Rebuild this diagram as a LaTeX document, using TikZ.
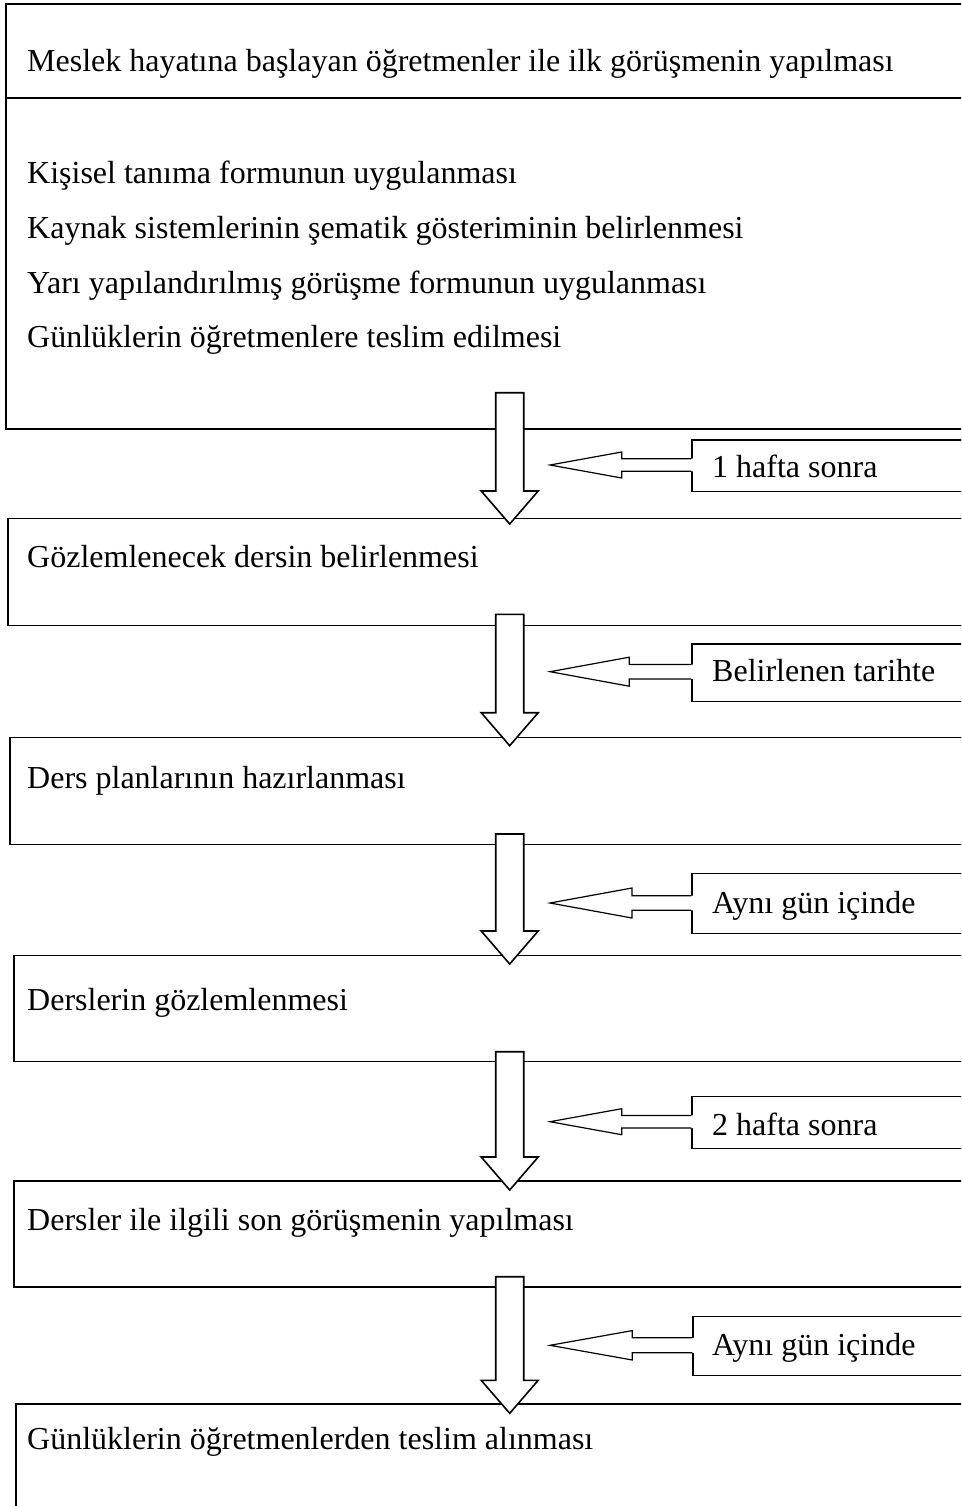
\documentclass[tikz,border=0pt]{standalone}
\usepackage{fontspec}
\setmainfont{Liberation Serif}
\usetikzlibrary{calc}
\tikzset{
  stagebox/.style={draw, line width=1.6pt, rectangle, anchor=north west, inner sep=0pt, minimum width=1100pt},
  stagetext/.style={anchor=base west, inner sep=0pt, font=\fontsize{32}{38}\selectfont},
  labelbox/.style={draw, line width=1.2pt, rectangle, anchor=north west, inner sep=0pt, minimum width=400pt},
  labeltext/.style={anchor=base west, inner sep=0pt, font=\fontsize{32}{38}\selectfont},
  bigarrowstyle/.style={draw, line width=1.6pt, fill=white, line join=miter},
  smallarrowstyle/.style={draw, line width=1.2pt, line join=miter}
}
% #1 start coordinate, #2 tip coordinate
\newcommand{\drawbigarrow}[2]{%
  \path[bigarrowstyle] ($(#1)+(-14,0)$) -- ($(#1)+(14,0)$) -- ($(#2)+(14,-33)$) -- ($(#2)+(28.5,-33)$) -- (#2) -- ($(#2)+(-28.5,-33)$) -- ($(#2)+(-14,-33)$) -- cycle;}
% #1 label node, #2 tip coordinate, #3 head length, #4 head half height, #5 shaft half height
\newcommand{\drawsmallarrow}[5]{%
  \fill[white] ($(#2)$) -- ($(#2)+(#3,-#4)$) -- ($(#2)+(#3,-#5)$) -- ($(#1.north west|-#2)+(1.5,-#5)$) -- ($(#1.north west|-#2)+(1.5,#5)$) -- ($(#2)+(#3,#5)$) -- ($(#2)+(#3,#4)$) -- cycle;
  \draw[smallarrowstyle] ($(#1.north west|-#2)+(0,-#5)$) -- ($(#2)+(#3,-#5)$) -- ($(#2)+(#3,-#4)$) -- (#2) -- ($(#2)+(#3,#4)$) -- ($(#2)+(#3,#5)$) -- ($(#1.north west|-#2)+(0,#5)$);}
\begin{document}
\begin{tikzpicture}[x=1pt,y=-1pt]
\clip (0,0) rectangle (961,1506);
\fill[white] (0,0) rectangle (961,1506);

% stage boxes
\node[stagebox, minimum height=425pt] (b1) at (5,3) {};
\draw[line width=2pt] (b1.west|-0,98.5) coordinate (sepl) -- (sepl-|b1.east);
\node[stagebox, minimum height=107pt] (b2) at (7,517.5) {};
\node[stagebox, minimum height=107pt] (b3) at (9,736.7) {};
\node[stagebox, minimum height=106pt] (b4) at (13,954.7) {};
\node[stagebox, minimum height=106pt] (b5) at (13,1180) {};
\node[stagebox, minimum height=300pt] (b6) at (15,1403.3) {};

% texts
\node[stagetext] (t1) at (27,72) {Meslek hayatına başlayan öğretmenler ile ilk görüşmenin yapılması};
\node[stagetext] (t1a) at (27,184) {Kişisel tanıma formunun uygulanması};
\node[stagetext] (t1b) at (27,238.5) {Kaynak sistemlerinin şematik gösteriminin belirlenmesi};
\node[stagetext] (t1c) at (27,293) {Yarı yapılandırılmış görüşme formunun uygulanması};
\node[stagetext] (t1d) at (27,347.5) {Günlüklerin öğretmenlere teslim edilmesi};
\node[stagetext] (t2) at (27,567) {Gözlemlenecek dersin belirlenmesi};
\node[stagetext] (t3) at (27,788) {Ders planlarının hazırlanması};
\node[stagetext] (t4) at (27,1010) {Derslerin gözlemlenmesi};
\node[stagetext] (t5) at (27,1230) {Dersler ile ilgili son görüşmenin yapılması};
\node[stagetext] (t6) at (27,1449) {Günlüklerin öğretmenlerden teslim alınması};

% label boxes
\node[labelbox, minimum height=51.4pt] (l1) at (691.3,439.3) {};
\node[labeltext] at (712,477) {1 hafta sonra};
\node[labelbox, minimum height=57.4pt] (l2) at (691.3,643.3) {};
\node[labeltext] at (712,681) {Belirlenen tarihte};
\node[labelbox, minimum height=60pt] (l3) at (691.3,873) {};
\node[labeltext] at (712,913) {Aynı gün içinde};
\node[labelbox, minimum height=51.7pt] (l4) at (691.3,1096) {};
\node[labeltext] at (712,1135) {2 hafta sonra};
\node[labelbox, minimum height=59.3pt] (l5) at (692.3,1315.7) {};
\node[labeltext] at (712,1355) {Aynı gün içinde};

% big arrows between stages
\coordinate (a1s) at (509.7,392.7); \coordinate (a1e) at (509.7,524);
\coordinate (a2s) at (509.7,614.3); \coordinate (a2e) at (509.7,745.7);
\coordinate (a3s) at (509.7,834);   \coordinate (a3e) at (509.7,964);
\coordinate (a4s) at (509.7,1051.7);\coordinate (a4e) at (509.7,1190);
\coordinate (a5s) at (509.7,1276.7);\coordinate (a5e) at (509.7,1413.3);
\drawbigarrow{a1s}{a1e}
\drawbigarrow{a2s}{a2e}
\drawbigarrow{a3s}{a3e}
\drawbigarrow{a4s}{a4e}
\drawbigarrow{a5s}{a5e}

% small arrows from labels
\coordinate (s1) at (550,465);
\coordinate (s2) at (550,671.7);
\coordinate (s3) at (550,903);
\coordinate (s4) at (550,1121.7);
\coordinate (s5) at (550,1345.3);
\drawsmallarrow{l1}{s1}{71.7}{13}{6.3}
\drawsmallarrow{l2}{s2}{79.3}{14.5}{7.2}
\drawsmallarrow{l3}{s3}{82}{15}{7.3}
\drawsmallarrow{l4}{s4}{71.7}{13}{6.3}
\drawsmallarrow{l5}{s5}{82.3}{14.7}{7.5}
\end{tikzpicture}
\end{document}
